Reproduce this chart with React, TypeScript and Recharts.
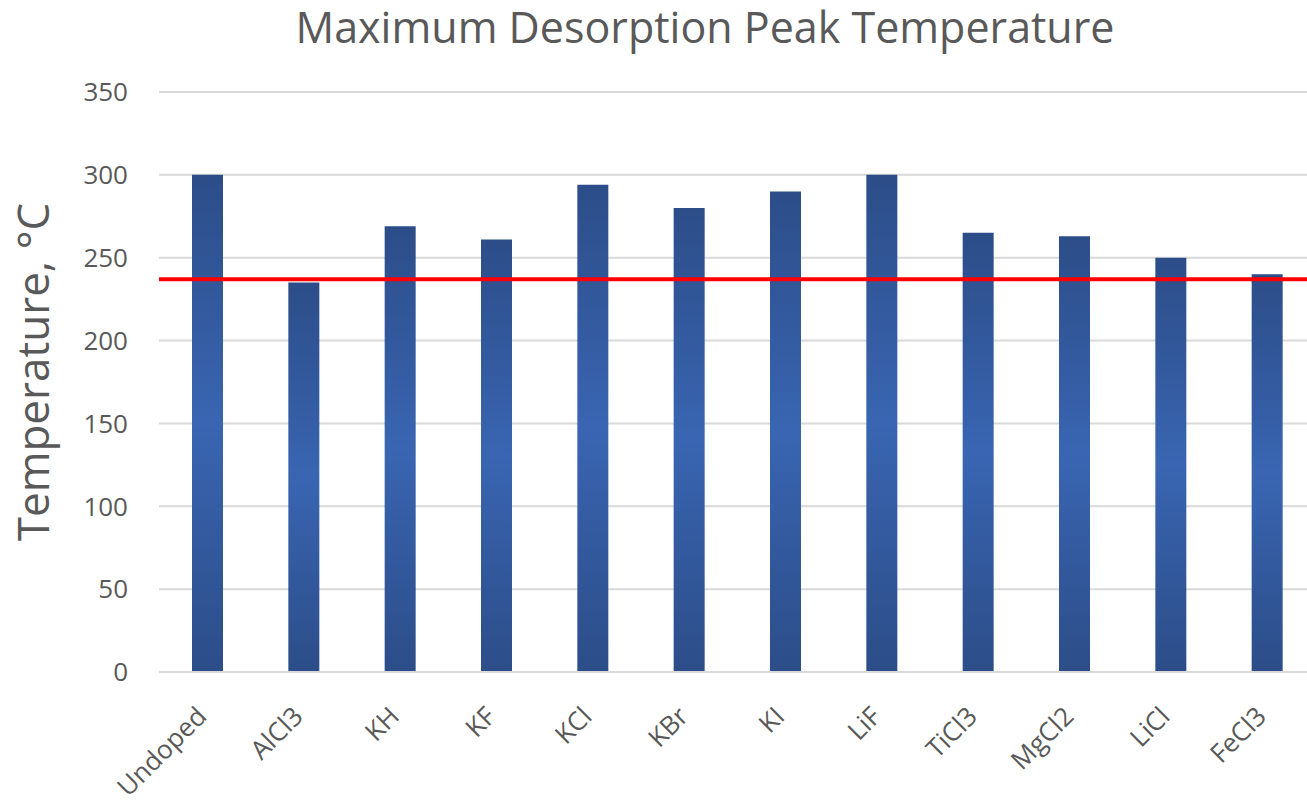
import React from 'react';
import { BarChart, Bar, XAxis, YAxis, CartesianGrid, ReferenceLine } from 'recharts';

const categories = ['Undoped', 'AlCl3', 'KH', 'KF', 'KCl', 'KBr', 'KI', 'LiF', 'TiCl3', 'MgCl2', 'LiCl', 'FeCl3'];
const temperatures = [300, 235, 269, 261, 294, 280, 290, 300, 265, 263, 250, 240];
const yTicks = [0, 50, 100, 150, 200, 250, 300, 350];
const referenceTemperature = 237;

const data = categories.map((name, i) => ({ name, temp: temperatures[i] }));

const FONT = '"Open Sans", sans-serif';
const TEXT = '#595959';

const XTick = (props: any) => {
  const { x, y, payload } = props;
  return (
    <g transform={`translate(${x + 1},${y + 46})`}>
      <text x={0} y={0} transform="rotate(-45)" textAnchor="end" fill={TEXT} fontSize={26} fontFamily={FONT}>
        {payload.value}
      </text>
    </g>
  );
};

export default function App() {
  return (
    <div style={{ position: 'absolute', left: 0, top: 0, width: 1307, height: 800, overflow: 'hidden', background: '#fff' }}>
      <BarChart width={1320} height={800} data={data} margin={{ top: 92, right: 5, bottom: 0, left: 0 }}>
        <defs>
          <linearGradient id="barGrad" x1="0" y1="0" x2="0" y2="1">
            <stop offset="0%" stopColor="#2c4d88" />
            <stop offset="50%" stopColor="#3965b2" />
            <stop offset="100%" stopColor="#2c4d88" />
          </linearGradient>
        </defs>
        <CartesianGrid vertical={false} stroke="#d9d9d9" strokeWidth={2} />
        <XAxis
          dataKey="name"
          height={128}
          interval={0}
          tickLine={false}
          tickSize={0}
          tickMargin={0}
          axisLine={{ stroke: '#d9d9d9', strokeWidth: 2 }}
          tick={<XTick />}
        />
        <YAxis
          width={159}
          domain={[0, 350]}
          ticks={yTicks}
          interval={0}
          axisLine={false}
          tickLine={false}
          tickSize={0}
          tickMargin={31}
          tick={{ fill: TEXT, fontSize: 26, fontFamily: FONT }}
        />
        <Bar dataKey="temp" fill="url(#barGrad)" barSize={31} isAnimationActive={false} />
        <ReferenceLine y={referenceTemperature} stroke="#ff0000" strokeWidth={4} />
      </BarChart>
      <svg width={1307} height={800} style={{ position: 'absolute', left: 0, top: 0, pointerEvents: 'none' }}>
        <text x={705} y={43} textAnchor="middle" fill={TEXT} fontSize={43} fontFamily={FONT}>
          Maximum Desorption Peak Temperature
        </text>
        <text
          transform="translate(49,372) rotate(-90)"
          textAnchor="middle"
          fill={TEXT}
          fontSize={44}
          fontFamily={FONT}
        >
          Temperature, °C
        </text>
      </svg>
    </div>
  );
}
